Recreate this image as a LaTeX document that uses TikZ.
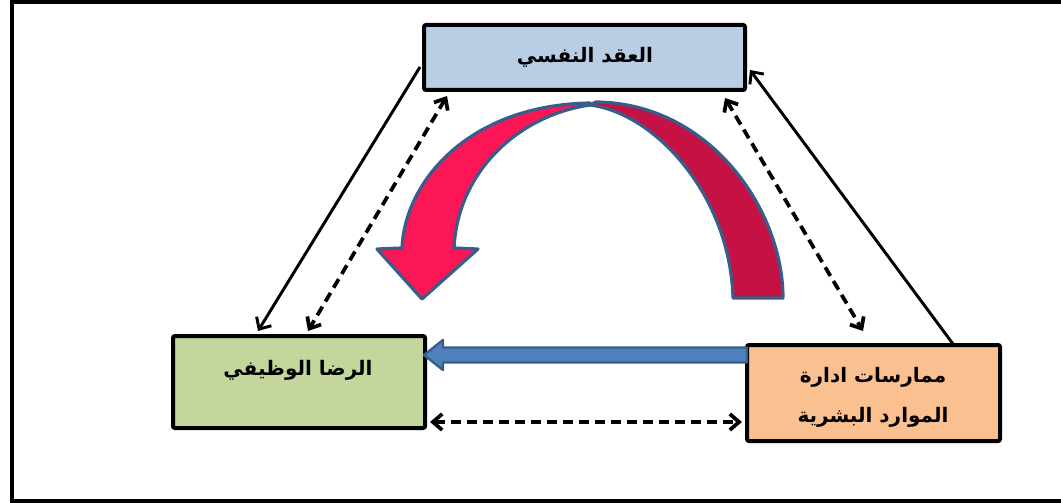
\documentclass[tikz,border=0pt]{standalone}
\usepackage{fontspec}
\usetikzlibrary{arrows.meta,calc}
\TeXXeTstate=1
\newfontfamily\arabicfont[Script=Arabic]{DejaVu Sans}
\definecolor{topfill}{RGB}{185,205,229}
\definecolor{leftfill}{RGB}{195,214,155}
\definecolor{rightfill}{RGB}{250,192,144}
\definecolor{bluefill}{RGB}{79,129,189}
\definecolor{blueline}{RGB}{56,93,138}
\definecolor{pinkfill}{RGB}{252,22,86}
\definecolor{darkfill}{RGB}{197,17,67}
\tikzset{
  boxstyle/.style={draw=black, line width=3pt, rounded corners=1.5pt, inner sep=0pt},
  txt/.style={font=\arabicfont\bfseries\fontsize{15}{30}\selectfont, inner sep=0pt, align=center},
  solidcon/.style={line width=2.2pt, -{Straight Barb[length=7pt,width=13pt]}},
  dashcon/.style={line width=2.8pt, dash pattern=on 7.5pt off 4.5pt, {Straight Barb[length=7pt,width=12pt]}-{Straight Barb[length=7pt,width=12pt]}},
}
\begin{document}
\begin{tikzpicture}[x=0.75pt,y=-0.75pt]
\useasboundingbox (0,0) rectangle (1061,503);
% outer frame
\draw[line width=3pt] (1070,2) -- (11.5,2) -- (11.5,501) -- (1070,501);
% boxes
\node[boxstyle, fill=topfill, minimum width=240.75pt, minimum height=48.75pt] (top) at (584.5,57.5) {};
\node[boxstyle, fill=leftfill, minimum width=189pt, minimum height=69pt] (left) at (299,382) {};
\node[boxstyle, fill=rightfill, minimum width=189.75pt, minimum height=72pt] (right) at (873.5,393) {};
% texts
\node[txt] (ttop) at (585,57) {\beginR العقد النفسي\endR};
\node[txt] (tleft) at (298,370) {\beginR الرضا الوظيفي\endR};
\node[txt] (tright) at (873,397) {\beginR ممارسات ادارة\endR\\\beginR الموارد البشرية\endR};
% connectors
\draw[solidcon] ($(top.west)+(-2,9.5)$) -- ($(left.north)+(-41,-3)$);
\draw[dashcon] ($(top.south)+(-137.5,4)$) -- ($(left.north)+(9,-3)$);
\draw[solidcon] ($(right.north)+(79.5,1)$) -- ($(top.east)+(3,12.5)$);
\draw[dashcon] ($(top.south)+(140.5,6)$) -- ($(right.north)+(-10.5,-12)$);
\draw[dashcon] ($(left.east)+(3,40)$) -- ($(right.west)+(-3,29)$);
% blue arrow
\coordinate (bs) at ($(right.west)+(2,-38)$);
\coordinate (be) at ($(left.east)+(-3,-27)$);
\draw[line width=1.8pt, draw=blueline, fill=bluefill, line join=round]
  ($(bs)+(0,-7.5)$) -- ($(be)+(19,-7.5)$) -- ($(be)+(19,-15)$) -- (be) -- ($(be)+(19,15)$) -- ($(be)+(19,7.5)$) -- ($(bs)+(0,7.5)$) -- cycle;
% curved arrow
\draw[line width=2.4pt, draw=blueline, fill=darkfill, line join=round]
  (733,298) -- (783,298) .. controls (783,210) and (710,103) .. (596,102)
  .. controls (594,103) and (592,104) .. (590,105)
  .. controls (655,113) and (730,195) .. (733,298) -- cycle;
\draw[line width=2.4pt, draw=blueline, fill=pinkfill, line join=round]
  (590,103) .. controls (470,105) and (405,180) .. (402,248)
  -- (377,249) -- (422,299) -- (478,249) -- (454,248)
  .. controls (458,170) and (520,115) .. (590,105) -- cycle;
\end{tikzpicture}
\end{document}
